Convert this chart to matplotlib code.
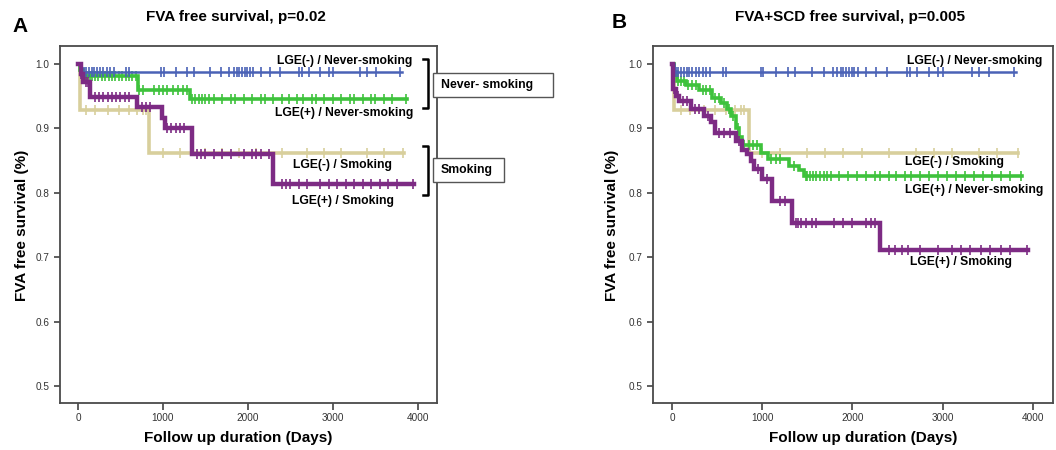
import numpy as np
import matplotlib
matplotlib.use("Agg")
import matplotlib.pyplot as plt
from matplotlib.patches import Rectangle
from matplotlib.lines import Line2D

plt.rcParams['font.family'] = ['Liberation Sans', 'DejaVu Sans']

# ---- Panel A: FVA free survival ----
a_neg_never_t = [0, 25]
a_neg_never_s = [1.0, 0.987]
a_neg_never_c = [40, 70, 100, 130, 160, 190, 220, 260, 300, 340, 380, 420, 560, 600, 980, 1010,
                 1150, 1280, 1360, 1550, 1680, 1780, 1830, 1870, 1900, 1930, 1960, 1990, 2020,
                 2060, 2150, 2260, 2380, 2600, 2640, 2720, 2850, 2950, 3000, 3320, 3400, 3510, 3790]
a_neg_never_end = 3810

a_pos_never_t = [0, 20, 60, 706, 1318]
a_pos_never_s = [1.0, 0.99, 0.981, 0.96, 0.946]
a_pos_never_c = [30, 50, 80, 110, 140, 170, 200, 240, 280, 320, 360, 400, 440, 480, 520, 560,
                 600, 640, 680, 720, 760, 900, 950, 1000, 1050, 1120, 1180, 1230, 1280, 1340,
                 1380, 1420, 1460, 1500, 1540, 1600, 1700, 1800, 1850, 1950, 2050, 2150, 2200,
                 2300, 2400, 2480, 2580, 2650, 2750, 2800, 2900, 3000, 3100, 3200, 3250, 3350,
                 3450, 3500, 3600, 3700, 3860]
a_pos_never_end = 3870

a_neg_smk_t = [0, 20, 835]
a_neg_smk_s = [1.0, 0.929, 0.862]
a_neg_smk_c = [100, 200, 350, 480, 600, 700, 760, 800, 1000, 1200, 1500, 1700, 1900, 2100,
               2400, 2700, 2900, 3100, 3400, 3600, 3830]
a_neg_smk_end = 3840

a_pos_smk_t = [0, 30, 60, 141, 690, 985, 1020, 1337, 2298]
a_pos_smk_s = [1.0, 0.985, 0.972, 0.949, 0.934, 0.917, 0.901, 0.86, 0.814]
a_pos_smk_c = [40, 90, 120, 200, 250, 300, 350, 400, 450, 500, 550, 600, 750, 800, 850, 1050,
               1100, 1150, 1200, 1250, 1400, 1450, 1500, 1600, 1700, 1800, 1950, 2050, 2100,
               2150, 2250, 2400, 2450, 2500, 2600, 2700, 2850, 2950, 3050, 3150, 3250, 3350,
               3450, 3550, 3650, 3750, 3945]
a_pos_smk_end = 3950

# ---- Panel B: FVA+SCD free survival ----
b_neg_never_t = [0, 25]
b_neg_never_s = [1.0, 0.987]
b_neg_never_c = a_neg_never_c
b_neg_never_end = 3810

b_pos_never_t = [0, 20, 50, 150, 300, 440, 540, 610, 650, 710, 745, 780, 990, 1060, 1300,
                 1410, 1467]
b_pos_never_s = [1.0, 0.988, 0.973, 0.967, 0.96, 0.947, 0.94, 0.93, 0.92, 0.90, 0.887,
                 0.875, 0.862, 0.852, 0.842, 0.835, 0.826]
b_pos_never_c = [30, 70, 100, 130, 180, 220, 260, 340, 380, 420, 480, 520, 570, 630, 680, 730,
                 800, 850, 900, 940, 1100, 1150, 1200, 1350, 1480, 1500, 1530, 1560, 1600, 1640,
                 1680, 1720, 1760, 1850, 1950, 2050, 2150, 2250, 2300, 2400, 2480, 2580, 2650,
                 2750, 2850, 2950, 3050, 3150, 3250, 3350, 3450, 3550, 3650, 3750, 3870]
b_pos_never_end = 3880

b_neg_smk_t = [0, 20, 848]
b_neg_smk_s = [1.0, 0.929, 0.862]
b_neg_smk_c = [100, 200, 350, 480, 600, 700, 760, 800, 1000, 1200, 1500, 1700, 1900, 2100,
               2400, 2700, 2900, 3100, 3400, 3600, 3830]
b_neg_smk_end = 3840

b_pos_smk_t = [0, 10, 40, 80, 210, 355, 430, 470, 710, 780, 830, 875, 910, 1000, 1110, 1333, 2300]
b_pos_smk_s = [1.0, 0.962, 0.95, 0.943, 0.93, 0.92, 0.91, 0.893, 0.88, 0.866, 0.86, 0.85,
               0.837, 0.822, 0.787, 0.753, 0.711]
b_pos_smk_c = [20, 60, 120, 160, 250, 300, 400, 520, 580, 640, 740, 950, 1050, 1200, 1250,
               1370, 1400, 1430, 1480, 1550, 1600, 1800, 1900, 2000, 2150, 2200, 2250, 2400,
               2470, 2550, 2620, 2750, 2950, 3100, 3200, 3300, 3420, 3520, 3650, 3750, 3940]
b_pos_smk_end = 3945

blue = '#4a62b6'
green = '#3ec23c'
khaki = '#d8cf9c'
purple = '#7d2b84'

W, H = 1056.0, 450.0


def km(ax, t, s, c, end, color, lw, z):
    tt = list(t) + [end]
    ss = list(s) + [s[-1]]
    ax.step(tt, ss, where='post', color=color, lw=lw, zorder=z, solid_joinstyle='miter')
    idx = np.searchsorted(t, c, side='right') - 1
    cy = np.array(s)[idx]
    ax.plot(c, cy, ls='none', marker='|', ms=7, mew=1.2, color=color, zorder=z)


def setup(ax, xlab_px, ylab_px):
    ax.set_xlim(-212, 4224)
    ax.set_ylim(0.474, 1.028)
    ax.set_xticks([0, 1000, 2000, 3000, 4000])
    ax.set_yticks([0.5, 0.6, 0.7, 0.8, 0.9, 1.0])
    ax.set_yticklabels(['0.5', '0.6', '0.7', '0.8', '0.9', '1.0'])
    for sp in ax.spines.values():
        sp.set_color('#4a4a4a')
        sp.set_linewidth(1.3)
    ax.tick_params(axis='both', direction='out', labelsize=7.2, colors='#333333',
                   length=4, width=1.1)
    ax.tick_params(axis='x', length=5, pad=2)
    fig.text(xlab_px / W, 1 - 438 / H, 'Follow up duration (Days)', fontsize=11,
             fontweight='bold', ha='center', va='center')
    fig.text(ylab_px / W, 1 - 225 / H, 'FVA free survival (%)', fontsize=11,
             fontweight='bold', ha='center', va='center', rotation=90)


fig = plt.figure(figsize=(10.56, 4.5), dpi=100)
axA = fig.add_axes([0.0568, 0.1044, 0.357, 0.7934])
axB = fig.add_axes([0.6184, 0.1044, 0.3788, 0.7934])

km(axA, a_neg_smk_t, a_neg_smk_s, a_neg_smk_c, a_neg_smk_end, khaki, 2.6, 2)
km(axA, a_pos_never_t, a_pos_never_s, a_pos_never_c, a_pos_never_end, green, 2.6, 3)
km(axA, a_neg_never_t, a_neg_never_s, a_neg_never_c, a_neg_never_end, blue, 1.8, 4)
km(axA, a_pos_smk_t, a_pos_smk_s, a_pos_smk_c, a_pos_smk_end, purple, 3.2, 5)

km(axB, b_neg_smk_t, b_neg_smk_s, b_neg_smk_c, b_neg_smk_end, khaki, 2.6, 2)
km(axB, b_pos_never_t, b_pos_never_s, b_pos_never_c, b_pos_never_end, green, 2.6, 3)
km(axB, b_neg_never_t, b_neg_never_s, b_neg_never_c, b_neg_never_end, blue, 1.8, 4)
km(axB, b_pos_smk_t, b_pos_smk_s, b_pos_smk_c, b_pos_smk_end, purple, 3.2, 5)

setup(axA, 238, 22)
setup(axB, 863, 612)

lab = dict(fontsize=8.7, fontweight='bold', va='center', zorder=6)
axA.text(3929, 1.0047, 'LGE(-) / Never-smoking', ha='right', **lab)
axA.text(3941, 0.924, 'LGE(+) / Never-smoking', ha='right', **lab)
axA.text(3694, 0.843, 'LGE(-) / Smoking', ha='right', **lab)
axA.text(3718, 0.787, 'LGE(+) / Smoking', ha='right', **lab)

axB.text(4111, 1.0047, 'LGE(-) / Never-smoking', ha='right', **lab)
axB.text(2578, 0.848, 'LGE(-) / Smoking', ha='left', **lab)
axB.text(2578, 0.804, 'LGE(+) / Never-smoking', ha='left', **lab)
axB.text(2633, 0.693, 'LGE(+) / Smoking', ha='left', **lab)


# brackets and group boxes (figure pixel coords -> fraction)
def px(x, y):
    return x / W, 1 - y / H


def bracket(y0, y1):
    xa, ya = px(423, y0)
    xb, yb = px(428, y1)
    fig.add_artist(Line2D([xa, xb, xb, xa], [ya, ya, yb, yb], color='black', lw=1.8,
                          transform=fig.transFigure))


def box(x0, y0, x1, y1, text):
    fx0, fy1 = px(x0, y1)
    fx1, fy0 = px(x1, y0)
    fig.add_artist(Rectangle((fx0, fy1), fx1 - fx0, fy0 - fy1, facecolor='white',
                             edgecolor='#555555', lw=1.0, transform=fig.transFigure, zorder=10))
    tx, ty = px(x0 + 8, (y0 + y1) / 2)
    fig.text(tx, ty, text, fontsize=8.8, fontweight='bold', ha='left', va='center', zorder=11)


bracket(59, 108)
bracket(146, 195)
box(433, 73, 553, 97, 'Never- smoking')
box(433, 158, 504, 182, 'Smoking')

fig.text(236 / W, 1 - 17 / H, 'FVA free survival, p=0.02', fontsize=11, fontweight='bold',
         ha='center', va='center')
fig.text(850 / W, 1 - 17 / H, 'FVA+SCD free survival, p=0.005', fontsize=11,
         fontweight='bold', ha='center', va='center')
fig.text(20 / W, 1 - 26 / H, 'A', fontsize=15, fontweight='bold', ha='center', va='center')
fig.text(619 / W, 1 - 23 / H, 'B', fontsize=15, fontweight='bold', ha='center', va='center')

fig.savefig('out.png', dpi=100)
